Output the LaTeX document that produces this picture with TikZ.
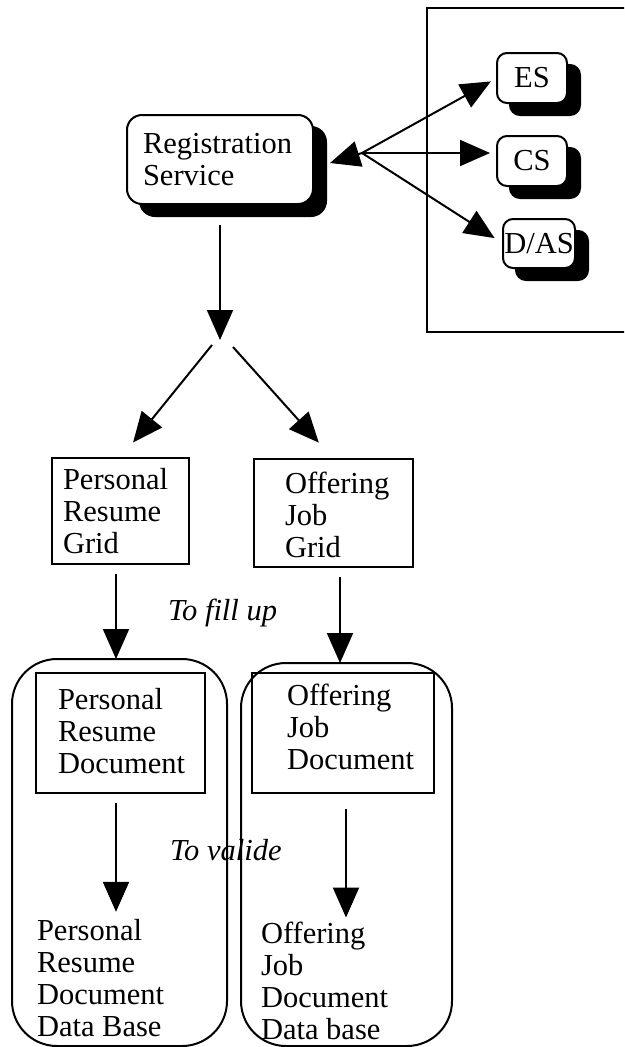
\documentclass[tikz,border=0pt]{standalone}
\usepackage{fontspec}
\setmainfont{Liberation Serif}
\usetikzlibrary{arrows.meta,shadows,calc}
\begin{document}
\begin{tikzpicture}[x=1pt,y=-1pt,line width=2pt,
  txt/.style={inner sep=0pt,outer sep=0pt,anchor=base west,font=\fontsize{30.5}{32}\selectfont},
  lbl/.style={inner sep=0pt,outer sep=0pt,anchor=base west,font=\fontsize{30.5}{32}\selectfont\itshape},
  sbox/.style={draw,fill=white,rounded corners=#1,inner sep=0pt,outer sep=0pt,anchor=north west,
    font=\fontsize{30.5}{32}\selectfont,
    drop shadow={shadow xshift=13pt,shadow yshift=-12pt,fill=black,draw=black,opacity=1}},
  rbox/.style={draw,inner sep=0pt,outer sep=0pt,anchor=north west},
  cont/.style={draw,rounded corners=45pt,inner sep=0pt,outer sep=0pt,anchor=north west},
  arr/.style={-{Triangle[length=30pt,width=26pt]}}]
\clip (0,0) rectangle (624,1047);
% outer frame on the right
\draw (427,8) rectangle (700,332);
% shadowed service boxes
\node[sbox=15pt,minimum width=186pt,minimum height=89pt] (reg) at (127,115) {};
\node[txt] (regt) at (143,153) {\parbox[t]{180pt}{Registration\\Service}};
\node[sbox=10pt,minimum width=70pt,minimum height=50pt] (es) at (497,53) {ES};
\node[sbox=10pt,minimum width=70pt,minimum height=50pt] (cs) at (497,136) {CS};
\node[sbox=10pt,minimum width=72pt,minimum height=49pt] (das) at (503,219) {D/AS};
\coordinate (hub) at (362,153);
\draw[arr] (hub) -- ([shift={(17,3.5)}]reg.east);
\draw[arr,shorten >=7pt] (hub) -- (es.west);
\draw[arr,shorten >=7pt] (hub) -- (hub -| cs.west);
\draw[arr,shorten >=10pt] (hub) -- (das.west);
% fork
\coordinate (forkT) at (220,340);
\coordinate (forkL) at (212,345);
\coordinate (forkR) at (233,347);
\draw[arr,shorten <=21pt] (reg.south) -- (forkT);
% grids
\node[rbox,minimum width=137pt,minimum height=106pt] (prg) at (52,458) {};
\node[txt] (prgt) at (63,489) {\parbox[t]{180pt}{Personal\\Resume\\Grid}};
\node[rbox,minimum width=159pt,minimum height=108pt] (ojg) at (254,459) {};
\node[txt] (ojgt) at (285,493) {\parbox[t]{180pt}{Offering\\Job\\Grid}};
\draw[arr,shorten >=20pt] (forkL) -- (prg.north);
\draw[arr,shorten >=22pt] (forkR) -- (ojg.north);
\node[lbl] (fill) at (168,620) {To fill up};
% containers
\node[cont,minimum width=215pt,minimum height=387pt] (lc) at (12,659) {};
\node[cont,minimum width=211pt,minimum height=383pt] (rc) at (241,663) {};
\draw[arr,shorten <=10pt] ([xshift=-4.5pt]prg.south) -- ([xshift=-4.5pt]prg.south |- lc.north);
\draw[arr,shorten <=10pt] ([xshift=6.5pt]ojg.south) -- ([xshift=6.5pt]ojg.south |- rc.north);
% documents
\node[rbox,minimum width=169pt,minimum height=120pt] (prd) at (36,673) {};
\node[txt] (prdt) at (58,709) {\parbox[t]{180pt}{Personal\\Resume\\Document}};
\node[rbox,minimum width=182pt,minimum height=120pt] (ojd) at (252,673) {};
\node[txt] (ojdt) at (287,705) {\parbox[t]{180pt}{Offering\\Job\\Document}};
\node[txt] (prdb) at (37,940) {\parbox[t]{180pt}{Personal\\Resume\\Document\\Data Base}};
\node[txt] (ojdb) at (261,943) {\parbox[t]{180pt}{Offering\\Job\\Document\\Data base}};
\draw[arr,shorten <=10pt,shorten >=7pt] ([xshift=-4.5pt]prd.south) -- ([xshift=-4.5pt]prd.south |- prdb.north);
\draw[arr,shorten <=16pt,shorten >=4pt] ([xshift=3pt]ojd.south) -- ([xshift=3pt]ojd.south |- ojdb.north);
\node[lbl] (valide) at (170,860) {To valide};
\end{tikzpicture}
\end{document}
